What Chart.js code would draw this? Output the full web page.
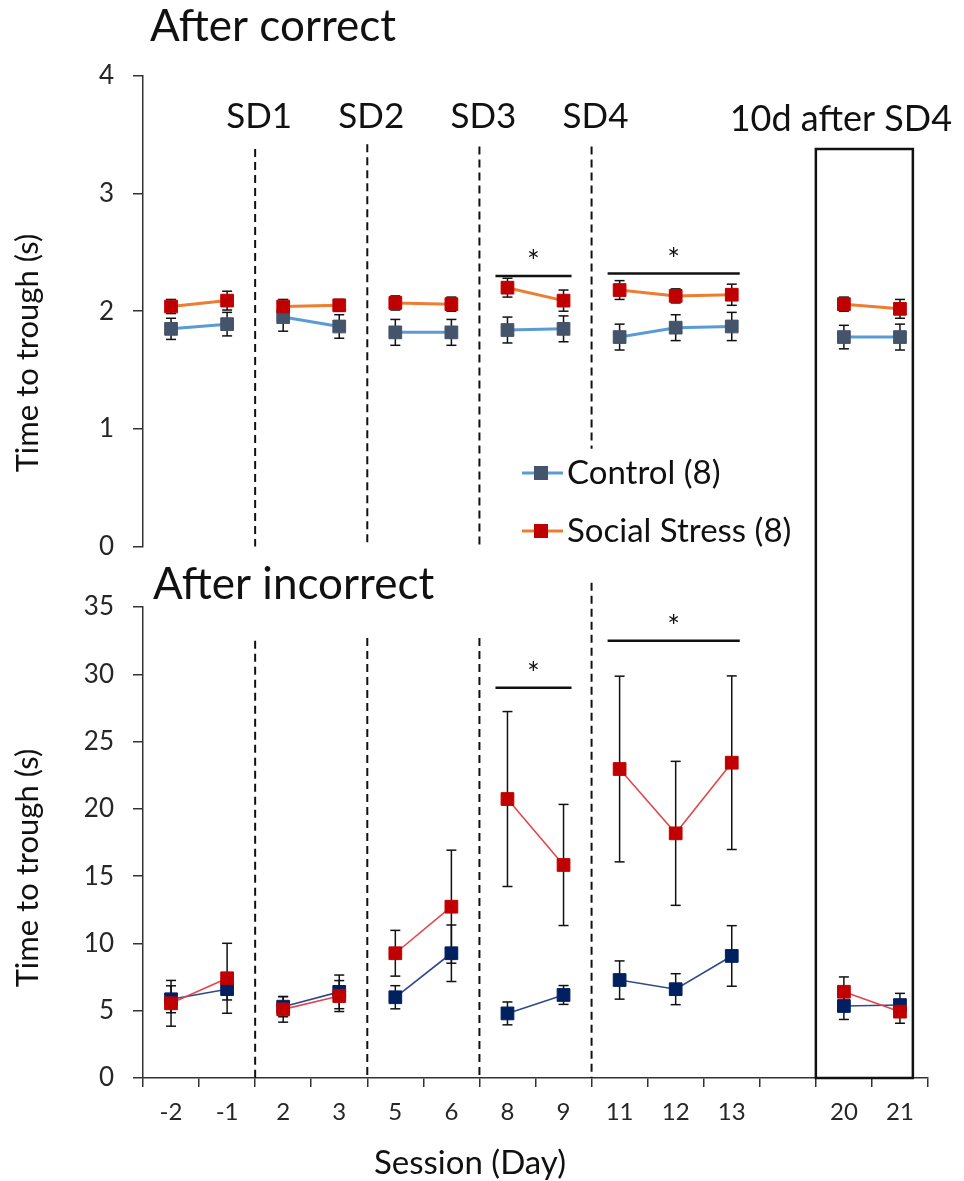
<!DOCTYPE html>
<html>
<head>
<meta charset="utf-8">
<title>Time to trough</title>
<script src="https://cdn.jsdelivr.net/npm/chart.js@4.4.0/dist/chart.umd.min.js"></script>
<style>
  html, body { margin: 0; padding: 0; background: #fff; }
  #wrap { position: relative; width: 964px; height: 1181px; }
  canvas { position: absolute; left: 0; }
  #correct { top: 0; }
  #incorrect { top: 560px; }
</style>
</head>
<body>
<div id="wrap">
  <!-- top canvas runs a little under the bottom one; both are transparent -->
  <canvas id="correct" width="964" height="581"></canvas>
  <canvas id="incorrect" width="964" height="621"></canvas>
</div>
<script>
// Sessions (blank slot = gap before the 10-day follow-up)
const sessions = ['-2', '-1', '2', '3', '5', '6', '8', '9', '11', '12', '13', '', '20', '21'];
// block of each session; lines only join points inside one block
const blocks = [0, 0, 1, 1, 2, 2, 3, 3, 4, 4, 4, null, 5, 5];

// After correct (s)
const controlCorrect    = [1.85, 1.89, 1.95, 1.87, 1.82, 1.82, 1.84, 1.85, 1.78, 1.86, 1.87, null, 1.78, 1.78];
const controlCorrectErr = [0.09, 0.10, 0.12, 0.10, 0.11, 0.11, 0.11, 0.11, 0.11, 0.11, 0.12, null, 0.10, 0.11];
const stressCorrect     = [2.04, 2.09, 2.04, 2.05, 2.07, 2.06, 2.20, 2.09, 2.18, 2.13, 2.14, null, 2.06, 2.02];
const stressCorrectErr  = [0.06, 0.08, 0.06, 0.05, 0.06, 0.06, 0.08, 0.09, 0.08, 0.06, 0.09, null, 0.06, 0.08];

// After incorrect (s)
const controlIncorrect    = [5.85, 6.6, 5.3, 6.4, 6.0, 9.27, 4.8, 6.17, 7.28, 6.6, 9.07, null, 5.35, 5.42];
const controlIncorrectErr = [1.0, 0.8, 0.75, 1.25, 0.86, 2.1, 0.85, 0.7, 1.42, 1.15, 2.25, null, 1.0, 0.87];
const stressIncorrect     = [5.55, 7.41, 5.1, 6.09, 9.27, 12.73, 20.73, 15.83, 22.96, 18.18, 23.43, null, 6.41, 4.93];
const stressIncorrectErr  = [1.7, 2.6, 0.95, 1.15, 1.7, 4.2, 6.5, 4.5, 6.9, 5.35, 6.45, null, 1.1, 0.86];

const correctTicks = [0, 1, 2, 3, 4];
const incorrectTicks = [0, 5, 10, 15, 20, 25, 30, 35];

const phaseLabels = ['SD1', 'SD2', 'SD3', 'SD4'];
const phaseStarts = [2, 4, 6, 8];          // first session after each SD
const dashTopCorrect = [3.38, 3.42, 3.40, 3.40];
const dashEndCorrect = [0, 0, 0, 0.83];
const dashTopIncorrect = [32.5, 32.7, 32.7, 36.8];
const followUpLabel = '10d after SD4';
const boxTopCorrect = 3.38;

// significance bars: [first session, last session, height]
const sigCorrect = [[6, 7, 2.30], [8, 10, 2.32]];
const sigIncorrect = [[6, 7, 29.0], [8, 10, 32.5]];

Chart.defaults.font.family = 'Lato, "Open Sans", sans-serif';
Chart.defaults.color = '#262626';

const AXIS = '#333333';
const INK = '#111111';
const FONT = 'Lato, "Open Sans", sans-serif';
const SPLIT = 560; // where the bottom canvas starts

function sameBlock(ctx) {
    return blocks[ctx.p0DataIndex] === blocks[ctx.p1DataIndex];
}

function series(label, data, lineColor, markerColor, width) {
    return {
        label: label,
        data: data,
        borderColor: lineColor,
        borderWidth: width,
        pointStyle: 'rect',
        pointRadius: 9,
        pointBackgroundColor: markerColor,
        pointBorderColor: markerColor,
        pointBorderWidth: 1,
        tension: 0,
        spanGaps: false,
        segment: {
            borderColor: ctx => sameBlock(ctx) ? undefined : 'transparent'
        }
    };
}

function line(ctx, x1, y1, x2, y2) {
    ctx.beginPath();
    ctx.moveTo(x1, y1);
    ctx.lineTo(x2, y2);
    ctx.stroke();
}

function label(ctx, str, x, y, size, align, baseline) {
    ctx.font = size + 'px ' + FONT;
    ctx.textAlign = align;
    ctx.textBaseline = baseline;
    ctx.fillStyle = INK;
    ctx.fillText(str, x, y);
}

function yTitle(ctx, cx, cy) {
    ctx.save();
    ctx.translate(cx, cy);
    ctx.rotate(-Math.PI / 2);
    label(ctx, 'Time to trough (s)', 0, 0, 31, 'center', 'middle');
    ctx.restore();
}

function bandWidth(x) {
    return (x.right - x.left) / sessions.length;
}

function sepX(x, i) {
    return (x.getPixelForValue(i - 1) + x.getPixelForValue(i)) / 2;
}

function drawDashes(chart, tops, ends) {
    const {ctx, scales: {x, y}} = chart;
    ctx.save();
    ctx.strokeStyle = INK;
    ctx.lineWidth = 2;
    ctx.setLineDash([8, 5]);
    phaseStarts.forEach((s, i) => {
        const px = sepX(x, s);
        line(ctx, px, y.getPixelForValue(tops[i]), px, y.getPixelForValue(ends ? ends[i] : 0));
    });
    ctx.restore();
}

function drawSig(chart, bars) {
    const {ctx, scales: {x, y}} = chart;
    ctx.save();
    ctx.strokeStyle = INK;
    ctx.lineWidth = 2.5;
    bars.forEach(b => {
        const x1 = x.getPixelForValue(b[0]) - 12;
        const x2 = x.getPixelForValue(b[1]) + 8;
        const py = y.getPixelForValue(b[2]);
        line(ctx, x1, py, x2, py);
        label(ctx, '*', (x1 + x2) / 2, py - 4, 30, 'center', 'alphabetic');
    });
    ctx.restore();
}

function boxSides(x) {
    const bw = bandWidth(x);
    return [x.getPixelForValue(12) - bw / 2, x.getPixelForValue(13) + bw * 0.23];
}

function errorBars(errs) {
    return {
        id: 'errorBars',
        beforeDatasetsDraw(chart) {
            const {ctx, scales: {x, y}} = chart;
            ctx.save();
            ctx.strokeStyle = INK;
            ctx.lineWidth = 1.5;
            chart.data.datasets.forEach((ds, di) => {
                ds.data.forEach((v, i) => {
                    if (v == null) return;
                    const px = x.getPixelForValue(i);
                    const hi = y.getPixelForValue(v + errs[di][i]);
                    const lo = y.getPixelForValue(v - errs[di][i]);
                    line(ctx, px, hi, px, lo);
                    line(ctx, px - 5, hi, px + 5, hi);
                    line(ctx, px - 5, lo, px + 5, lo);
                });
            });
            ctx.restore();
        }
    };
}

// legend sits inside the top panel
const legendItems = [
    ['Control (8)', '#5B9BD5', '#44546A', 473],
    ['Social Stress (8)', '#ED7D31', '#C00000', 531]
];

const correctDecor = {
    id: 'correctDecor',
    afterDraw(chart) {
        const {ctx, scales: {x, y}} = chart;
        ctx.save();
        label(ctx, 'After correct', 150, 41, 44, 'left', 'alphabetic');
        yTitle(ctx, 28, 353);

        phaseLabels.forEach((t, i) => {
            label(ctx, t, sepX(x, phaseStarts[i]) + 4, 117, 35, 'center', 'middle');
        });
        label(ctx, followUpLabel, x.getPixelForValue(12) - 3, 119, 36, 'center', 'middle');

        drawDashes(chart, dashTopCorrect, dashEndCorrect);

        // upper part of the follow-up box, the lower canvas carries on from SPLIT
        const [bl, br] = boxSides(x);
        const bt = y.getPixelForValue(boxTopCorrect);
        ctx.strokeStyle = INK;
        ctx.lineWidth = 2.5;
        ctx.beginPath();
        ctx.moveTo(bl, SPLIT);
        ctx.lineTo(bl, bt);
        ctx.lineTo(br, bt);
        ctx.lineTo(br, SPLIT);
        ctx.stroke();

        drawSig(chart, sigCorrect);

        legendItems.forEach(it => {
            ctx.strokeStyle = it[1];
            ctx.lineWidth = 3;
            line(ctx, 522, it[3], 563, it[3]);
            ctx.fillStyle = it[2];
            ctx.fillRect(534, it[3] - 7, 14, 14);
            label(ctx, it[0], 567, it[3], 33, 'left', 'middle');
        });
        ctx.restore();
    }
};

const incorrectDecor = {
    id: 'incorrectDecor',
    afterDraw(chart) {
        const {ctx, scales: {x, y}} = chart;
        ctx.save();
        label(ctx, 'After incorrect', 153, 39, 44, 'left', 'alphabetic');
        yTitle(ctx, 28, 308);
        label(ctx, 'Session (Day)', 470, 603, 33, 'center', 'middle');

        drawDashes(chart, dashTopIncorrect);

        const [bl, br] = boxSides(x);
        const bb = y.getPixelForValue(0);
        ctx.strokeStyle = INK;
        ctx.lineWidth = 2.5;
        ctx.beginPath();
        ctx.moveTo(bl, 0);
        ctx.lineTo(bl, bb);
        ctx.lineTo(br, bb);
        ctx.lineTo(br, 0);
        ctx.stroke();

        drawSig(chart, sigIncorrect);
        ctx.restore();
    }
};

function panel(id, cfg) {
    return new Chart(document.getElementById(id), {
        type: 'line',
        data: { labels: sessions, datasets: cfg.datasets },
        options: {
            responsive: false,
            devicePixelRatio: 1,
            animation: false,
            layout: { padding: cfg.padding },
            plugins: {
                legend: { display: false },
                tooltip: { enabled: false }
            },
            scales: {
                x: {
                    type: 'category',
                    offset: true,
                    display: cfg.showX,
                    grid: {
                        offset: true,
                        drawOnChartArea: false,
                        tickLength: 9,
                        color: AXIS,
                        lineWidth: 1.5
                    },
                    border: { color: AXIS, width: 1.5 },
                    ticks: {
                        autoSkip: false,
                        maxRotation: 0,
                        padding: 11,
                        font: { size: 24 },
                        color: '#262626'
                    },
                    afterFit: s => { if (cfg.showX) s.height = 103; }
                },
                y: {
                    min: 0,
                    max: cfg.ticks[cfg.ticks.length - 1],
                    afterBuildTicks: s => { s.ticks = cfg.ticks.map(v => ({ value: v })); },
                    grid: {
                        drawOnChartArea: false,
                        tickLength: 10,
                        color: AXIS,
                        lineWidth: 1.5
                    },
                    border: { color: AXIS, width: 1.5 },
                    ticks: {
                        padding: 19,
                        font: { size: 26 },
                        color: '#262626'
                    },
                    afterFit: s => { s.width = 143; }
                }
            }
        },
        plugins: [errorBars(cfg.errs), cfg.decor]
    });
}

// social stress listed first so it is drawn on top
panel('correct', {
    datasets: [
        series('Social Stress (8)', stressCorrect, '#ED7D31', '#C00000', 3),
        series('Control (8)', controlCorrect, '#5B9BD5', '#44546A', 3)
    ],
    errs: [stressCorrectErr, controlCorrectErr],
    ticks: correctTicks,
    showX: false,
    padding: { top: 76, bottom: 15, left: 0, right: 36 },
    decor: correctDecor
});

panel('incorrect', {
    datasets: [
        series('Social Stress (8)', stressIncorrect, '#E0474C', '#C00000', 1.6),
        series('Control (8)', controlIncorrect, '#2F4A8A', '#002060', 1.6)
    ],
    errs: [stressIncorrectErr, controlIncorrectErr],
    ticks: incorrectTicks,
    showX: true,
    padding: { top: 47, bottom: 0, left: 0, right: 36 },
    decor: incorrectDecor
});
</script>
</body>
</html>
